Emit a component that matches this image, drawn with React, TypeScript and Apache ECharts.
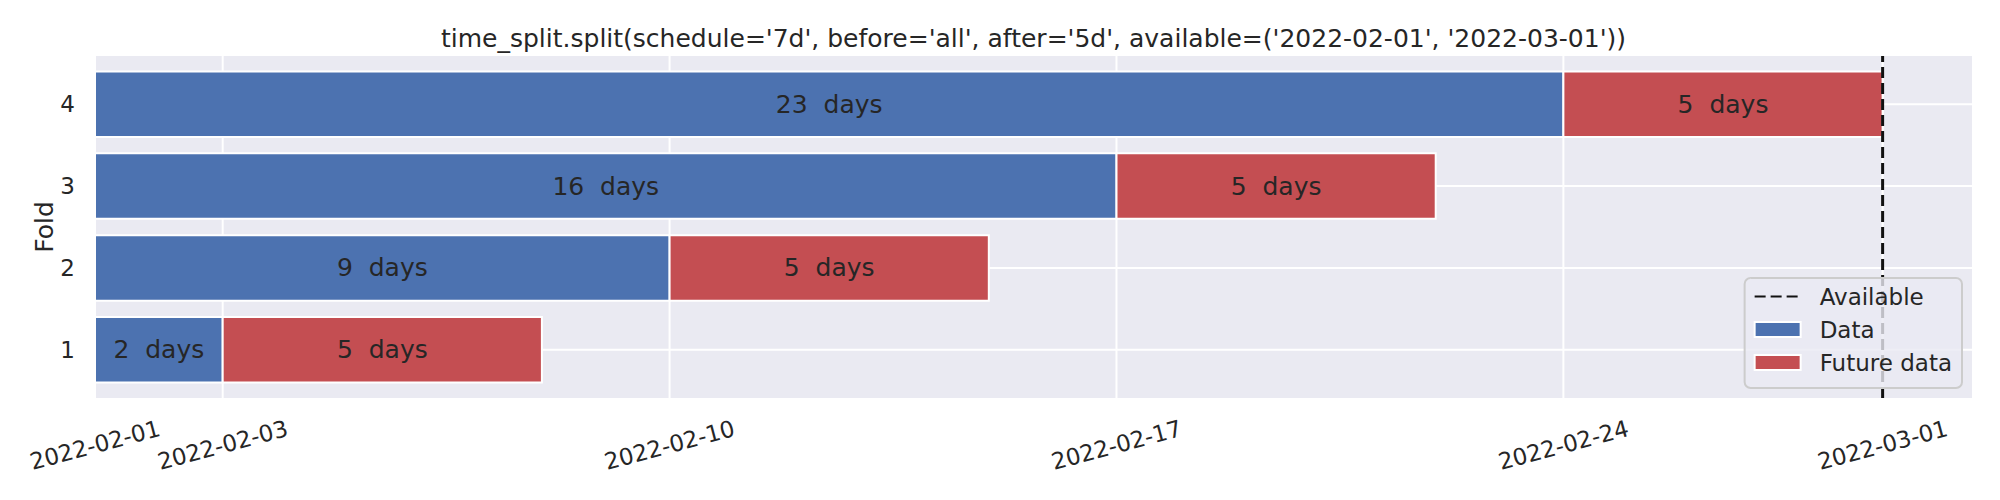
import React, { useEffect, useRef } from "react";
import * as echarts from "echarts";

// ---- data ----
const folds = [1, 2, 3, 4];
const dataDays = [2, 9, 16, 23];
const futureDays = [5, 5, 5, 5];
const availableRange = ["2022-02-01", "2022-03-01"];
const tickLabels = ["2022-02-01", "2022-02-03", "2022-02-10", "2022-02-17", "2022-02-24", "2022-03-01"];
const titleText =
  "time_split.split(schedule='7d', before='all', after='5d', available=('2022-02-01', '2022-03-01'))";

const DAY = 86400000;
const startMs = Date.parse(availableRange[0]);
const dayOf = (s: string) => (Date.parse(s) - startMs) / DAY;
const tickDays = tickLabels.map(dayOf);
const availableEnd = dayOf(availableRange[1]);

const BLUE = "#4C72B0";
const RED = "#C44E52";
const TXT = "#262626";
const FONT = "DejaVu Sans";
const BIG = 25;
const SMALL = 23;

export default function App() {
  const ref = useRef<HTMLDivElement>(null);
  useEffect(() => {
    if (!ref.current) return;
    const chart = echarts.init(ref.current, undefined, { renderer: "svg" });

    const xMax = availableEnd * 1.05;
    const barH = 0.8;
    const span = folds[folds.length - 1] - folds[0] + barH;
    const yMin = folds[0] - barH / 2 - 0.05 * span;
    const yMax = folds[folds.length - 1] + barH / 2 + 0.05 * span;

    const barRender = (params: any, api: any) => {
      const start = api.value(0);
      const len = api.value(1);
      const fold = api.value(2);
      const p0 = api.coord([start, fold + barH / 2]);
      const p1 = api.coord([start + len, fold - barH / 2]);
      return {
        type: "group",
        children: [
          {
            type: "rect",
            shape: { x: p0[0], y: p0[1], width: p1[0] - p0[0], height: p1[1] - p0[1] },
            style: { fill: api.visual("color"), stroke: "#ffffff", lineWidth: 2 },
          },
          {
            type: "text",
            x: (p0[0] + p1[0]) / 2,
            y: (p0[1] + p1[1]) / 2,
            style: {
              text: `${len}  days`,
              fill: TXT,
              fontSize: BIG,
              fontFamily: FONT,
              align: "center",
              verticalAlign: "middle",
            },
          },
        ],
      };
    };

    const option: any = {
      animation: false,
      textStyle: { fontFamily: FONT },
      graphic: [
        {
          type: "text",
          x: 1033.5,
          y: 38,
          style: {
            text: titleText,
            fill: TXT,
            fontSize: BIG,
            fontFamily: FONT,
            align: "center",
            verticalAlign: "middle",
          },
        },
      ],
      grid: {
        left: 95,
        right: 28,
        top: 56,
        bottom: 102,
        show: true,
        backgroundColor: "#EAEAF2",
        borderWidth: 0,
        outerBoundsMode: "none",
      },
      legend: {
        data: [
          { name: "Available", itemStyle: { opacity: 0, color: "rgba(0,0,0,0)", borderWidth: 0 } },
          { name: "Data", icon: "rect" },
          { name: "Future data", icon: "rect" },
        ],
        orient: "vertical",
        right: 38,
        bottom: 112,
        z: 10,
        itemWidth: 46,
        itemHeight: 15,
        itemGap: 10,
        padding: [7, 10, 14, 9],
        backgroundColor: "rgba(234,234,242,0.8)",
        borderColor: "#cccccc",
        borderWidth: 2,
        borderRadius: 6,
        textStyle: { fontSize: SMALL, color: TXT, fontFamily: FONT, lineHeight: 22, padding: [0, 0, 0, 14] },
      },
      xAxis: {
        type: "value",
        min: 0,
        max: xMax,
        axisLine: { show: false },
        axisTick: { show: false },
        splitLine: { show: false },
        axisLabel: {
          customValues: tickDays,
          formatter: (v: number) => {
            const i = tickDays.findIndex((d) => Math.abs(d - v) < 1e-6);
            return i >= 0 ? tickLabels[i] : "";
          },
          rotate: 15,
          align: "center",
          verticalAlign: "middle",
          margin: 47,
          fontSize: SMALL,
          color: TXT,
          fontFamily: FONT,
        },
      },
      yAxis: {
        type: "value",
        min: yMin,
        max: yMax,
        name: "Fold",
        nameLocation: "middle",
        nameGap: 38,
        nameMoveOverlap: false,
        nameTextStyle: { fontSize: BIG, color: TXT, fontFamily: FONT },
        axisLine: { show: false },
        axisTick: { show: false },
        splitLine: { show: false },
        axisLabel: {
          customValues: folds,
          formatter: (v: number) => String(Math.round(v)),
          margin: 20,
          fontSize: SMALL,
          color: TXT,
          fontFamily: FONT,
        },
      },
      series: [
        {
          name: "gridX",
          type: "custom",
          z: 1,
          silent: true,
          data: tickDays.map((d) => [d, 1]),
          encode: { x: 0, y: 1 },
          renderItem: (params: any, api: any) => {
            const x = api.coord([api.value(0), 1])[0];
            const cs = params.coordSys;
            return {
              type: "line",
              shape: { x1: x, y1: cs.y, x2: x, y2: cs.y + cs.height },
              style: { stroke: "#ffffff", lineWidth: 2 },
            };
          },
        },
        {
          name: "gridY",
          type: "custom",
          z: 1,
          silent: true,
          data: folds.map((f) => [0, f]),
          encode: { x: 0, y: 1 },
          renderItem: (params: any, api: any) => {
            const y = api.coord([0, api.value(1)])[1];
            const cs = params.coordSys;
            return {
              type: "line",
              shape: { x1: cs.x, y1: y, x2: cs.x + cs.width, y2: y },
              style: { stroke: "#ffffff", lineWidth: 2 },
            };
          },
        },
        {
          name: "Data",
          type: "custom",
          z: 2,
          itemStyle: { color: BLUE, borderColor: "#ffffff", borderWidth: 2 },
          data: folds.map((f, i) => [0, dataDays[i], f]),
          encode: { x: 0, y: 2 },
          renderItem: barRender,
        },
        {
          name: "Future data",
          type: "custom",
          z: 2,
          itemStyle: { color: RED, borderColor: "#ffffff", borderWidth: 2 },
          data: folds.map((f, i) => [dataDays[i], futureDays[i], f]),
          encode: { x: 0, y: 2 },
          renderItem: barRender,
        },
        {
          name: "Available",
          type: "line",
          z: 3,
          symbol: "none",
          silent: true,
          data: [
            [availableEnd, yMin],
            [availableEnd, yMax],
          ],
          lineStyle: { color: "#111111", width: 3, type: [11, 5] },
          itemStyle: { color: "#111111" },
        },
      ],
    };

    chart.setOption(option);
    return () => chart.dispose();
  }, []);

  return (
    <div
      ref={ref}
      style={{ position: "absolute", left: 0, top: 0, width: 2000, height: 500, background: "#ffffff" }}
    />
  );
}
